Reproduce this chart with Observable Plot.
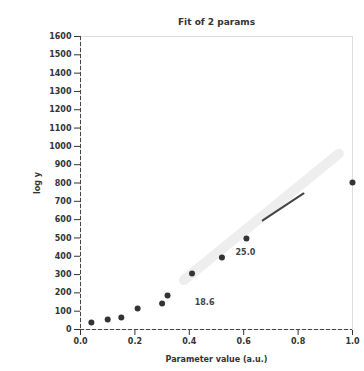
<!DOCTYPE html>
<html><head><meta charset="utf-8">
<script src="https://cdn.jsdelivr.net/npm/d3@7"></script>
<script src="https://cdn.jsdelivr.net/npm/@observablehq/plot@0.6"></script>
<style>body{margin:0;background:#fff;font-family:"DejaVu Sans",sans-serif}</style>
</head><body><div id="c"></div>
<script>
const xs = [0.04, 0.10, 0.15, 0.21, 0.30, 0.32, 0.41, 0.52, 0.61, 1.0];
const ys = [38, 55, 66, 115, 142, 186, 306, 393, 497, 803];
const fitX = [0.38, 0.95];
const fitY = [270, 960];
const darkX = [0.67, 0.82];
const darkY = [596, 743];
const yTicks = d3.range(0, 1700, 100);
const xTicks = [0, 0.2, 0.4, 0.6, 0.8, 1.0];
const noteX = [0.42, 0.57];
const noteY = [150, 420];
const notes = ["18.6", "25.0"];
const titleText = "Fit of 2 params";
const xLabel = "Parameter value (a.u.)";
const yLabel = "log y";

const pts = xs.map((x, i) => ({x, y: ys[i]}));
const fit = fitX.map((x, i) => ({x, y: fitY[i]}));
const dark = darkX.map((x, i) => ({x, y: darkY[i]}));
const nt = notes.map((t, i) => ({x: noteX[i], y: noteY[i], t}));

const chart = Plot.plot({
  width: 364, height: 371,
  marginLeft: 80, marginRight: 12, marginTop: 36, marginBottom: 42,
  style: {fontFamily: "DejaVu Sans, sans-serif", fontSize: "8px", color: "#333", background: "#fff", fontWeight: "bold"},
  x: {domain: [0, 1], ticks: xTicks, tickFormat: d3.format(".1f"), label: xLabel, labelAnchor: "center", labelArrow: "none", labelOffset: 32},
  y: {domain: [0, 1600], ticks: yTicks, tickFormat: d3.format("d"), label: yLabel, labelAnchor: "center", labelArrow: "none", labelOffset: 46},
  marks: [
    Plot.frame({stroke: "#ddd"}),
    Plot.line(fit, {x: "x", y: "y", stroke: "#eeeeee", strokeWidth: 10}),
    Plot.ruleY([0], {stroke: "#444", strokeDasharray: "4,2"}),
    Plot.ruleX([0], {stroke: "#444", strokeDasharray: "4,2"}),
    Plot.line(dark, {x: "x", y: "y", stroke: "#444", strokeWidth: 2}),
    Plot.dot(pts, {x: "x", y: "y", r: 3, fill: "#333"}),
    Plot.text(nt, {x: "x", y: "y", text: "t", fill: "#444", fontSize: 8, fontWeight: "bold", textAnchor: "start"}),
    Plot.text([titleText], {frameAnchor: "top", dy: -18, fontSize: 9, fill: "#333"})
  ]
});
document.getElementById("c").appendChild(chart);
</script></body></html>
